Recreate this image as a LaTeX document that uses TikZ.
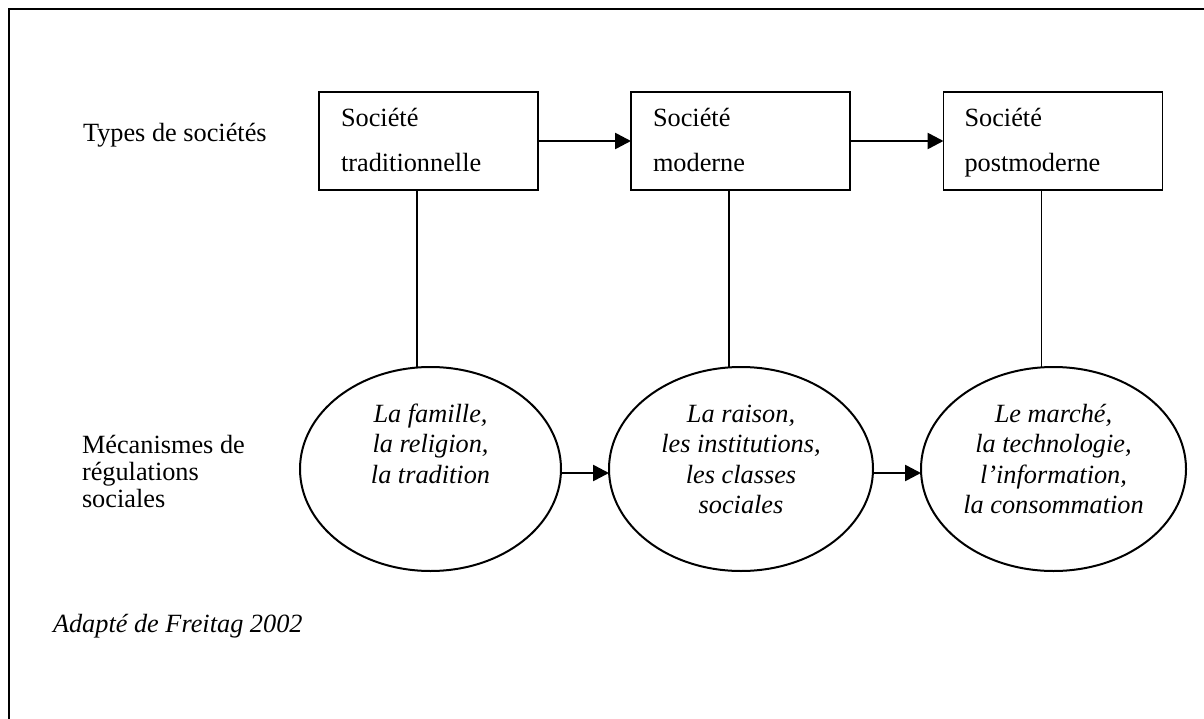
\documentclass[tikz,border=0pt]{standalone}
\usepackage{fontspec}
\setmainfont{Liberation Serif}
\usetikzlibrary{arrows.meta,shapes.geometric,calc}
\begin{document}
\begin{tikzpicture}[x=1pt,y=-1pt,
  every node/.style={inner sep=0pt,outer sep=0pt,font=\fontsize{26.3}{30.5}\selectfont},
  stage/.style={draw,line width=1.5pt,minimum width=219pt,minimum height=98pt},
  regul/.style={draw,ellipse,line width=2pt,minimum height=204pt},
  txt/.style={anchor=base west},
  itl/.style={anchor=base,font=\fontsize{26.3}{30.5}\selectfont\itshape},
  flow/.style={line width=2.6pt,-{Triangle[length=16pt,width=16pt]}},
  tie/.style={line width=1.7pt}]
\useasboundingbox (0,0) rectangle (1204,719);

% open frame (top and left edges)
\draw[line width=2.6pt] (9,719) -- (9,9) -- (1204,9);

% row labels
\node[txt] (types) at (83,142) {Types de sociétés};
\node[txt] (meca1) at (82,453) {Mécanismes de};
\node[txt] (meca2) at (82,480) {régulations};
\node[txt] (meca3) at (82,507) {sociales};
\node[txt,font=\fontsize{26.3}{30.5}\selectfont\itshape] (src) at (53,632) {Adapté de Freitag 2002};

% society boxes
\node[stage] (b1) at (428.5,141) {};
\node[stage] (b2) at (740.5,141) {};
\node[stage] (b3) at (1053,141) {};
\node[txt] (b1a) at ($(b1.north west)+(22,35)$) {Société};
\node[txt] (b1b) at ($(b1.north west)+(22,80)$) {traditionnelle};
\node[txt] (b2a) at ($(b2.north west)+(22,35)$) {Société};
\node[txt] (b2b) at ($(b2.north west)+(22,80)$) {moderne};
\node[txt] (b3a) at ($(b3.north west)+(21,35)$) {Société};
\node[txt] (b3b) at ($(b3.north west)+(21,80)$) {postmoderne};

% regulation ellipses
\node[regul,minimum width=261pt] (e1) at (430.5,469) {};
\node[regul,minimum width=264pt] (e2) at (741,469) {};
\node[regul,minimum width=265pt] (e3) at (1053.5,469) {};

\node[itl] (e1a) at ($(e1.center)+(0,-47)$) {La famille,};
\node[itl] (e1b) at ($(e1.center)+(0,-16.5)$) {la religion,};
\node[itl] (e1c) at ($(e1.center)+(0,14)$) {la tradition};

\node[itl] (e2a) at ($(e2.center)+(0,-47)$) {La raison,};
\node[itl] (e2b) at ($(e2.center)+(0,-16.5)$) {les institutions,};
\node[itl] (e2c) at ($(e2.center)+(0,14)$) {les classes};
\node[itl] (e2d) at ($(e2.center)+(0,44)$) {sociales};

\node[itl] (e3a) at ($(e3.center)+(0,-47)$) {Le marché,};
\node[itl] (e3b) at ($(e3.center)+(0,-16.5)$) {la technologie,};
\node[itl] (e3c) at ($(e3.center)+(0,14)$) {l’information,};
\node[itl] (e3d) at ($(e3.center)+(0,44)$) {la consommation};

% vertical ties between boxes and ellipses
\draw[tie] ($(b1.south)+(-11.5,0)$) -- ($(e1.north)+(-13.5,0)$);
\draw[tie] ($(b2.south)+(-11.5,0)$) -- ($(e2.north)+(-12,0)$);
\draw[tie] ($(b3.south)+(-11.5,0)$) -- ($(e3.north)+(-12,0)$);

% arrows
\draw[flow] (b1.east) -- (b2.west);
\draw[flow] (b2.east) -- (b3.west);
\draw[flow] ($(e1.east)+(0,4)$) -- ($(e2.west)+(0,4)$);
\draw[flow] ($(e2.east)+(0,4)$) -- ($(e3.west)+(0,4)$);
\end{tikzpicture}
\end{document}
